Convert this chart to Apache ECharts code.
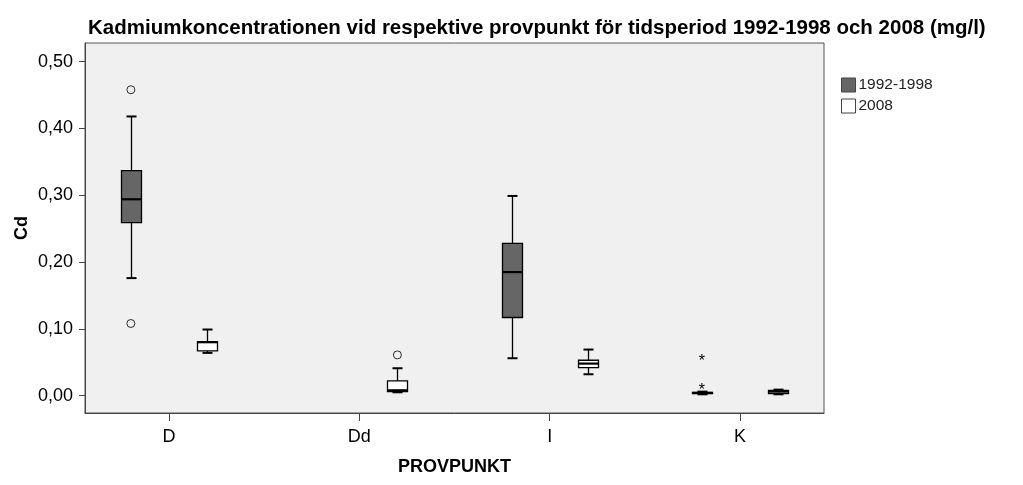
<!DOCTYPE html>
<html>
<head>
<meta charset="utf-8">
<script src="https://cdn.jsdelivr.net/npm/echarts@6/dist/echarts.min.js"></script>
<style>
  html, body { margin: 0; padding: 0; background: #fff; }
  #main { width: 1023px; height: 485px; }
</style>
</head>
<body>
<div id="main"></div>
<script>
var categories = ['D', 'Dd', 'I', 'K'];
var seriesNames = ['1992-1998', '2008'];
var yTicks = [0, 0.1, 0.2, 0.3, 0.4, 0.5];
var yTickLabels = ['0,00', '0,10', '0,20', '0,30', '0,40', '0,50'];

// [kategori, min, Q1, median, Q3, max]
var box1992 = [
  [0, 0.176, 0.259, 0.294, 0.337, 0.418],
  [2, 0.056, 0.117, 0.185, 0.228, 0.299],
  [3, 0.002, 0.003, 0.004, 0.005, 0.006]
];
var box2008 = [
  [0, 0.064, 0.067, 0.080, 0.081, 0.099],
  [1, 0.005, 0.006, 0.008, 0.022, 0.041],
  [2, 0.032, 0.042, 0.048, 0.053, 0.069],
  [3, 0.002, 0.003, 0.006, 0.008, 0.009]
];
// uteliggare (o) och extremvärden (*)
var outliers1992 = [[0, 0.458], [0, 0.108]];
var outliers2008 = [[1, 0.061]];
var extremes1992 = [[3, 0.057], [3, 0.013]];

var shift = [-0.2, 0.2];
var fills = ['#666666', '#ffffff'];

function shifted(list, s) {
  return list.map(function (d) { return [d[0] + s].concat(d.slice(1)); });
}

function renderBox(params, api) {
  var x = api.value(0);
  var pMin = api.coord([x, api.value(1)]);
  var pQ1 = api.coord([x, api.value(2)]);
  var pMed = api.coord([x, api.value(3)]);
  var pQ3 = api.coord([x, api.value(4)]);
  var pMax = api.coord([x, api.value(5)]);
  var cx = Math.round(pMin[0]) + 0.5;
  var w = 20, cap = 5;
  var line = { stroke: '#000', lineWidth: 1.3 };
  return {
    type: 'group',
    children: [
      { type: 'line', shape: { x1: cx, y1: pMax[1], x2: cx, y2: pQ3[1] }, style: line },
      { type: 'line', shape: { x1: cx, y1: pQ1[1], x2: cx, y2: pMin[1] }, style: line },
      { type: 'line', shape: { x1: cx - cap, y1: pMax[1], x2: cx + cap, y2: pMax[1] }, style: { stroke: '#000', lineWidth: 2 } },
      { type: 'line', shape: { x1: cx - cap, y1: pMin[1], x2: cx + cap, y2: pMin[1] }, style: { stroke: '#000', lineWidth: 2 } },
      { type: 'rect', shape: { x: cx - w / 2, y: pQ3[1], width: w, height: Math.max(pQ1[1] - pQ3[1], 1) },
        style: { fill: api.visual('color'), stroke: '#000', lineWidth: 1.3 } },
      { type: 'line', shape: { x1: cx - w / 2, y1: pMed[1], x2: cx + w / 2, y2: pMed[1] }, style: { stroke: '#000', lineWidth: 2.2 } }
    ]
  };
}

function renderStar(params, api) {
  var p = api.coord([api.value(0), api.value(1)]);
  return {
    type: 'text',
    style: { text: '*', x: p[0], y: p[1] + 4, fill: '#000', font: '16px Arial', align: 'center', verticalAlign: 'middle' }
  };
}

var boxes = [box1992, box2008];
var outs = [outliers1992, outliers2008];

var series = [];
for (var i = 0; i < 2; i++) {
  series.push({
    name: seriesNames[i],
    type: 'custom',
    renderItem: renderBox,
    itemStyle: { color: fills[i], borderColor: '#000', borderWidth: 1 },
    encode: { x: 0, y: [1, 2, 3, 4, 5] },
    data: shifted(boxes[i], shift[i]),
    z: 3
  });
  series.push({
    name: seriesNames[i],
    type: 'scatter',
    symbol: 'circle',
    symbolSize: 8,
    itemStyle: { color: '#f0f0f0', borderColor: '#000', borderWidth: 1 },
    data: shifted(outs[i], shift[i]),
    z: 4
  });
}
series.push({
  name: seriesNames[0],
  type: 'custom',
  renderItem: renderStar,
  itemStyle: { color: fills[0] },
  encode: { x: 0, y: 1 },
  data: shifted(extremes1992, shift[0]),
  z: 4
});

var myChart = echarts.init(document.getElementById('main'));
var option = {
  animation: false,
  backgroundColor: '#fff',
  textStyle: { fontFamily: 'Arial, Liberation Sans, sans-serif' },
  title: {
    text: 'Kadmiumkoncentrationen vid respektive provpunkt för tidsperiod 1992-1998 och 2008 (mg/l)',
    left: 83,
    top: 13,
    textStyle: { fontSize: 20.5, fontWeight: 'bold', color: '#000', fontFamily: 'Arial, Liberation Sans, sans-serif' }
  },
  legend: {
    orient: 'vertical',
    left: 841,
    top: 77,
    padding: 0,
    itemWidth: 14,
    itemHeight: 14,
    itemGap: 5,
    icon: 'rect',
    data: [
      { name: seriesNames[0], itemStyle: { color: fills[0], borderColor: '#444', borderWidth: 1 } },
      { name: seriesNames[1], itemStyle: { color: fills[1], borderColor: '#444', borderWidth: 1 } }
    ],
    textStyle: { fontSize: 15.5, color: '#222', padding: [0, 0, 0, -2] },
    selectedMode: false
  },
  grid: {
    left: 85,
    right: 199,
    top: 43,
    bottom: 72,
    show: true,
    backgroundColor: '#f0f0f0',
    borderColor: '#555',
    borderWidth: 1
  },
  //x-axel med provpunkter
  xAxis: {
    type: 'value',
    min: -0.441,
    max: 3.441,
    name: 'PROVPUNKT',
    nameLocation: 'middle',
    nameGap: 45,
    nameTextStyle: { fontSize: 18, fontWeight: 'bold', color: '#000' },
    splitLine: { show: false },
    axisLine: { onZero: false, lineStyle: { color: '#444', width: 1 } },
    axisTick: { customValues: [0, 1, 2, 3], length: 8, lineStyle: { color: '#444' } },
    axisLabel: {
      customValues: [0, 1, 2, 3],
      fontSize: 18,
      color: '#000',
      margin: 15,
      formatter: function (v) { return categories[Math.round(v)]; }
    }
  },
  yAxis: {
    type: 'value',
    min: -0.026,
    max: 0.528,
    name: 'Cd',
    nameLocation: 'middle',
    nameRotate: 90,
    nameGap: 54,
    nameMoveOverlap: false,
    nameTextStyle: { fontSize: 18, fontWeight: 'bold', color: '#000' },
    splitLine: { show: false },
    axisLine: { show: true, onZero: false, lineStyle: { color: '#444', width: 1 } },
    axisTick: { show: true, customValues: yTicks, length: 6, lineStyle: { color: '#444' } },
    axisLabel: {
      customValues: yTicks,
      fontSize: 18,
      color: '#000',
      margin: 12,
      formatter: function (v) {
        var k = Math.round(v * 10);
        return yTickLabels[k];
      }
    }
  },
  series: series
};
myChart.setOption(option);
</script>
</body>
</html>
